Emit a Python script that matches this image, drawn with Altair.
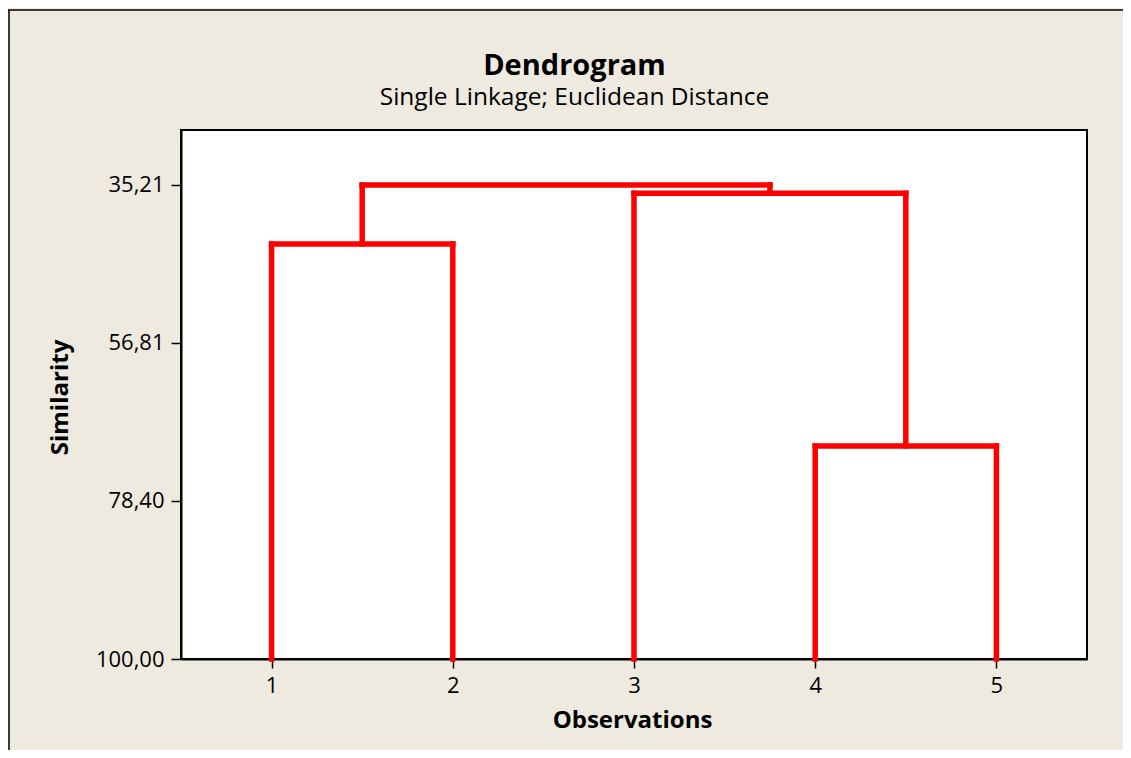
import altair as alt
import pandas as pd

# ---- data ----
observations = [1, 2, 3, 4, 5]
# clusters: leaves are 1..5, merges get ids 6, 7, 8, 9 in order
merge_first = [1, 4, 3, 6]
merge_second = [2, 5, 7, 8]
merge_similarity = [43.27, 70.88, 36.34, 35.21]
leaf_similarity = 100.0
y_ticks = [35.21, 56.81, 78.40, 100.00]
y_domain = [27.7, 100.0]
x_domain = [0.5, 5.5]
title_text = "Dendrogram"
subtitle_text = "Single Linkage; Euclidean Distance"

# ---- build dendrogram segments from merges ----
pos = {o: (float(o), leaf_similarity) for o in observations}
rows = []
for k, (a, b, s) in enumerate(zip(merge_first, merge_second, merge_similarity)):
    cid = len(observations) + 1 + k
    xa, ya = pos[a]
    xb, yb = pos[b]
    rows.append(dict(x=xa, x2=xa, y=ya, y2=s))
    rows.append(dict(x=xb, x2=xb, y=yb, y2=s))
    rows.append(dict(x=xa, x2=xb, y=s, y2=s))
    pos[cid] = ((xa + xb) / 2, s)
segs = pd.DataFrame(rows)

W, H = 906, 529
PAD = dict(left=173, top=122, right=36, bottom=91)
FONT = "Open Sans"

x_scale = alt.Scale(domain=x_domain, nice=False, zero=False)
y_scale = alt.Scale(domain=y_domain, nice=False, zero=False, reverse=True)

dendro = alt.Chart(segs).mark_rule(color="#FF0000", strokeWidth=5.5, strokeCap="square").encode(
    x=alt.X("x:Q", scale=x_scale,
            axis=alt.Axis(values=observations, format="d", title="Observations",
                          titleX=451, titleY=61, titleBaseline="middle",
                          tickSize=9, labelPadding=7)),
    x2="x2:Q",
    y=alt.Y("y:Q", scale=y_scale,
            axis=alt.Axis(values=y_ticks,
                          labelExpr="replace(format(datum.value, '.2f'), '.', ',')",
                          title="Similarity", titleAngle=270, titleX=-121, titleY=267,
                          titleBaseline="middle", titleAlign="center",
                          tickSize=10, labelPadding=7)),
    y2="y2:Q",
)

one = pd.DataFrame({"k": [0]})
frame_left = alt.Chart(one).mark_rule(color="black", strokeWidth=1.5).encode(
    x=alt.value(-172), y=alt.value(-120), y2=alt.value(H + PAD["bottom"]))
frame_top = alt.Chart(one).mark_rule(color="black", strokeWidth=1.5).encode(
    x=alt.value(-173), x2=alt.value(W + PAD["right"]), y=alt.value(-120))

title_df = pd.DataFrame({"t": [title_text]})
sub_df = pd.DataFrame({"t": [subtitle_text]})
title_mark = alt.Chart(title_df).mark_text(
    font=FONT, fontSize=29, fontWeight="bold", color="black",
    align="center", baseline="alphabetic").encode(
    text="t:N", x=alt.value(393.5), y=alt.value(-55))
sub_mark = alt.Chart(sub_df).mark_text(
    font=FONT, fontSize=24.5, color="black",
    align="center", baseline="alphabetic").encode(
    text="t:N", x=alt.value(393.5), y=alt.value(-25))

chart = alt.layer(dendro, frame_left, frame_top, title_mark, sub_mark).properties(
    width=W, height=H,
    autosize=alt.AutoSizeParams(type="none"),
    padding=PAD,
    background="#EEEAE0",
).configure_view(
    stroke="black", strokeWidth=2, fill="white"
).configure_axis(
    grid=False,
    domainColor="black", domainWidth=2,
    tickColor="black", tickWidth=1.5,
    labelFont=FONT, labelFontSize=22, labelColor="black",
    titleFont=FONT, titleFontSize=24, titleFontWeight="bold", titleColor="black",
)

chart.save("out.html", embed_options={"renderer": "svg", "actions": False})
